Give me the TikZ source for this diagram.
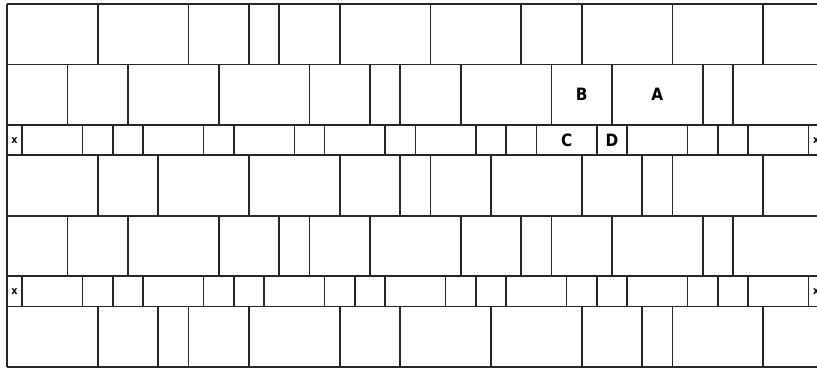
\documentclass[tikz,border=0pt]{standalone}
\usepackage{fontspec}
\setsansfont{Liberation Sans}
\newfontfamily\letrafont{DejaVu Sans Condensed}
\usepackage{tikz}

\begin{document}
\begin{tikzpicture}[
    x=1cm, y=1cm,
    % Estilo para las juntas del aparejo
    junta/.style={
        line width=1.5pt,
        color=black!85
    },
    % Estilo para las letras de las piezas
    letra/.style={
        font=\letrafont\bfseries\fontsize{16}{16}\selectfont,
        inner sep=0pt
    },
    % Estilo para las marcas de los extremos
    marca/.style={
        font=\letrafont\bfseries\fontsize{10}{10}\selectfont,
        inner sep=0pt
    }
]

    % --- MARCO (tamano de la imagen) ---
    \useasboundingbox (-0.2314,-12.02) rectangle (26.777,0.132);

    % --- HILADAS: arriba / abajo / juntas verticales ---
    \foreach \ya/\yb/\juntas in {
        0/-2/{3,6,8,9,11,14,17,19,22,25},
        -2/-4/{2,4,7,10,12,13,15,18,20,23,24},
        -4/-5/{0.5,2.5,3.5,4.5,6.5,7.5,9.5,10.5,12.5,13.5,15.5,16.5,17.5,19.5,20.5,22.5,23.5,24.5,26.5},
        -5/-7/{3,5,8,11,13,14,16,19,21,22,25},
        -7/-9/{2,4,7,9,10,12,15,17,18,20,23,24},
        -9/-10/{0.5,2.5,3.5,4.5,6.5,7.5,8.5,10.5,11.5,12.5,14.5,15.5,16.5,18.5,19.5,20.5,22.5,23.5,24.5,26.5},
        -10/-12/{3,5,6,8,11,13,16,19,21,22,25}}{
        \foreach \x in \juntas {
            \draw[junta] (\x,\ya) -- (\x,\yb);
        }
    }

    % --- JUNTAS HORIZONTALES ---
    \foreach \y in {0,-2,-4,-5,-7,-9,-10,-12} {
        \draw[junta] (0,\y) -- (26.9,\y);
    }
    \draw[junta] (0,0) -- (0,-12);

    % --- PIEZAS MARCADAS ---
    \node[letra] (B) at (19,-3)    {B};
    \node[letra] (A) at (21.5,-3)  {A};
    \node[letra] (C) at (18.5,-4.5) {C};
    \node[letra] (D) at (20,-4.5)  {D};

    % --- MARCAS DE LOS EXTREMOS ---
    \node[marca] (x1) at (0.25,-4.5)  {x};
    \node[marca] (x2) at (26.75,-4.5) {x};
    \node[marca] (x3) at (0.25,-9.5)  {x};
    \node[marca] (x4) at (26.75,-9.5) {x};

\end{tikzpicture}
\end{document}
